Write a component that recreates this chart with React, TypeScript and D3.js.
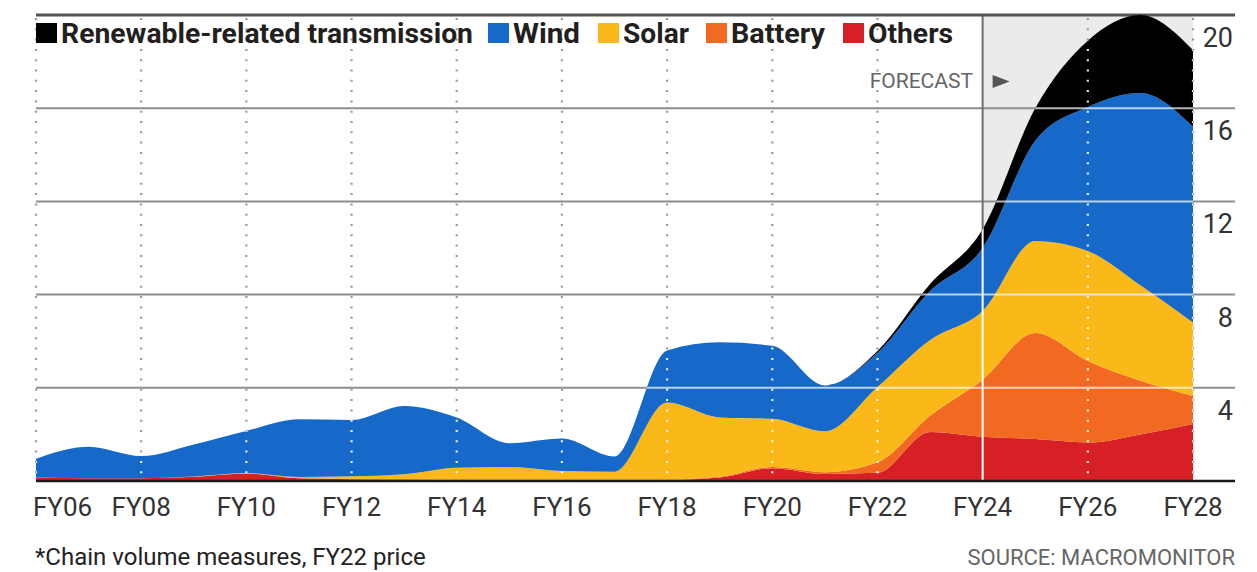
import * as d3 from "d3";

// FY06 .. FY28
const years = [
  2006, 2007, 2008, 2009, 2010, 2011, 2012, 2013, 2014, 2015, 2016, 2017,
  2018, 2019, 2020, 2021, 2022, 2023, 2024, 2025, 2026, 2027, 2028,
];
const others = [
  0.15, 0.12, 0.12, 0.18, 0.32, 0.12, 0.08, 0.06, 0.05, 0.05, 0.05, 0.05,
  0.05, 0.15, 0.55, 0.3, 0.35, 2.1, 1.9, 1.8, 1.65, 2.0, 2.45,
];
const battery = [
  0, 0, 0, 0, 0, 0, 0.02, 0.03, 0.03, 0.03, 0.03, 0.03,
  0.02, 0.03, 0.05, 0.08, 0.45, 0.7, 2.45, 4.55, 3.5, 2.3, 1.2,
];
const solar = [
  0, 0, 0, 0.01, 0.02, 0.05, 0.1, 0.2, 0.49, 0.52, 0.35, 0.32,
  3.3, 2.55, 2.07, 1.75, 3.23, 3.25, 2.95, 3.95, 4.72, 4.1, 3.15,
];
const wind = [
  0.81, 1.35, 0.95, 1.38, 1.81, 2.48, 2.42, 2.93, 2.15, 1.02, 1.39, 0.65,
  2.23, 3.22, 3.13, 1.97, 1.47, 2.1, 2.7, 4.3, 6.18, 8.25, 8.4,
];
const transmission = [
  0, 0, 0, 0, 0, 0, 0, 0, 0, 0, 0, 0,
  0, 0, 0, 0, 0.08, 0.3, 0.8, 1.4, 2.85, 3.35, 3.3,
];

const seriesKeys = ["others", "battery", "solar", "wind", "transmission"];
const seriesColors: Record<string, string> = {
  others: "#d71f26",
  battery: "#f26a22",
  solar: "#fbb919",
  wind: "#1668c9",
  transmission: "#000000",
};
const legendItems = [
  { key: "transmission", label: "Renewable-related transmission", w: 412, gap: 15 },
  { key: "wind", label: "Wind", w: 67, gap: 18 },
  { key: "solar", label: "Solar", w: 66, gap: 17 },
  { key: "battery", label: "Battery", w: 94, gap: 18 },
  { key: "others", label: "Others", w: 85, gap: 0 },
];
const yTicks = [4, 8, 12, 16, 20];
const xTicks = [2006, 2008, 2010, 2012, 2014, 2016, 2018, 2020, 2022, 2024, 2026, 2028];
const forecastStart = 2024;

const W = 1257;
const H = 572;
const FONT = "Roboto, 'Open Sans', sans-serif";
const GRID_RIGHT = 1235;

export default function App() {
  const x = d3.scaleLinear().domain([2006, 2028]).range([36, 1193]);
  const y = d3.scaleLinear().domain([0, 20]).range([481, 15]);

  const rows = years.map((yr, i) => ({
    year: yr,
    others: others[i],
    battery: battery[i],
    solar: solar[i],
    wind: wind[i],
    transmission: transmission[i],
  }));
  const stacked = d3.stack<any>().keys(seriesKeys)(rows);

  const area = d3
    .area<any>()
    .x((d) => x(d.data.year))
    .y0((d) => y(d[0]))
    .y1((d) => y(d[1]))
    .curve(d3.curveMonotoneX);

  const top = stacked[stacked.length - 1];
  const totalArea = d3
    .area<any>()
    .x((d) => x(d.data.year))
    .y0(y(0))
    .y1((d) => y(d[1]))
    .curve(d3.curveMonotoneX)(top as any);

  const xF = x(forecastStart);

  // legend layout: square, gap, label, gap
  let lx = 36;
  const legend = legendItems.map((it) => {
    const pos = { ...it, sx: lx, tx: lx + 25 };
    lx += 25 + it.w + it.gap;
    return pos;
  });

  const gridLines = (stroke: string, dotted: string, solid: string) => (
    <g>
      {yTicks.slice(0, -1).map((t) => (
        <line key={t} x1={36} x2={GRID_RIGHT} y1={y(t)} y2={y(t)} stroke={stroke} strokeWidth={2} />
      ))}
      {xTicks.map((t) =>
        t === forecastStart ? (
          <line key={t} x1={x(t)} x2={x(t)} y1={y(20)} y2={y(0)} stroke={solid} strokeWidth={2} />
        ) : (
          <line
            key={t}
            x1={x(t)}
            x2={x(t)}
            y1={y(20) + 3}
            y2={y(0)}
            stroke={dotted}
            strokeWidth={2.2}
            strokeDasharray="2 8.3"
          />
        )
      )}
    </g>
  );

  return (
    <svg
      width={W}
      height={H}
      style={{ position: "absolute", left: 0, top: 0, background: "#fff" }}
      fontFamily={FONT}
    >
      <defs>
        <clipPath id="dataClip">
          <path d={totalArea ?? ""} />
        </clipPath>
      </defs>

      {/* forecast shading */}
      <rect x={xF} y={y(20)} width={x(2028) - xF} height={y(0) - y(20)} fill="#ebebeb" />

      {gridLines("#8e8e8e", "#9a9a9a", "#6e6e6e")}
      <line x1={36} x2={GRID_RIGHT} y1={y(20)} y2={y(20)} stroke="#555" strokeWidth={3} />

      {stacked.map((s) => (
        <path key={s.key} d={area(s as any) ?? ""} fill={seriesColors[s.key]} />
      ))}

      {/* grid seen through the data */}
      <g clipPath="url(#dataClip)">
        {gridLines("rgba(255,255,255,0.7)", "rgba(255,255,255,0.9)", "#fff")}
      </g>

      <line x1={36} x2={GRID_RIGHT} y1={y(0)} y2={y(0)} stroke="#1a1a1a" strokeWidth={2.5} />

      {/* y labels */}
      {yTicks.map((t) => (
        <text key={t} x={1233} y={y(t) + 32} textAnchor="end" fontSize={27} fill="#333">
          {t}
        </text>
      ))}

      {/* x labels */}
      {xTicks.map((t, i) => (
        <text
          key={t}
          x={i === 0 ? 33 : x(t)}
          y={516}
          textAnchor={i === 0 ? "start" : "middle"}
          fontSize={26}
          fill="#333"
        >
          {"FY" + String(t).slice(2)}
        </text>
      ))}

      {/* forecast marker */}
      <text x={973} y={88} textAnchor="end" fontSize={21} fill="#666">
        FORECAST
      </text>
      <path d={`M${xF + 10},75 L${xF + 10},88 L${xF + 27},81.5 Z`} fill="#555" />

      {/* legend */}
      {legend.map((it) => (
        <g key={it.key}>
          <rect x={it.sx} y={23} width={21} height={20} fill={seriesColors[it.key]} />
          <text
            x={it.tx}
            y={43}
            fontSize={27}
            fontWeight={700}
            fill="#231f20"
            textLength={it.w}
            lengthAdjust="spacingAndGlyphs"
          >
            {it.label}
          </text>
        </g>
      ))}

      <text x={35} y={565} fontSize={24} fill="#222">
        *Chain volume measures, FY22 price
      </text>
      <text x={1235} y={565} textAnchor="end" fontSize={22} fill="#666">
        SOURCE: MACROMONITOR
      </text>
    </svg>
  );
}
